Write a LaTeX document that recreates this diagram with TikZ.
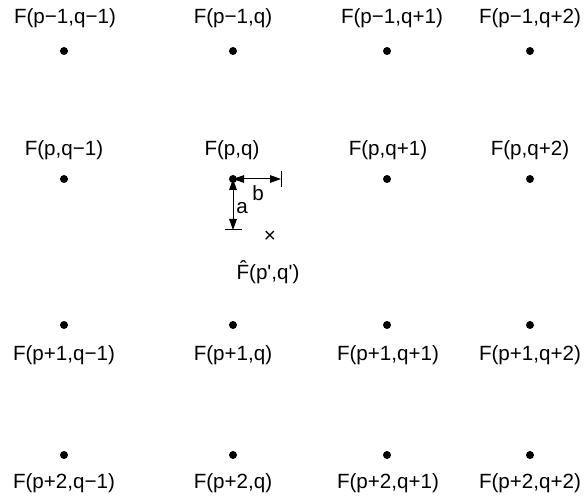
\documentclass[tikz,border=0pt]{standalone}
\usepackage{fontspec}
\setmainfont{Liberation Sans}[Ligatures=TeXOff]
\usetikzlibrary{arrows.meta}
\begin{document}
\begin{tikzpicture}[x=0.5pt,y=-0.5pt,
  dot/.style={circle,fill=black,inner sep=0pt,minimum size=4pt},
  lbl/.style={inner sep=0pt,font=\fontsize{10.3}{12}\selectfont},
  dim/.style={line width=0.5pt,{Triangle[length=5.5pt,width=3.8pt]}-{Triangle[length=5.5pt,width=3.8pt]}},
  tick/.style={line width=0.5pt}]
\useasboundingbox (0,0) rectangle (584,502);
% dots
\foreach \r/\y in {1/51,2/179,3/325,4/455}{
  \foreach \c/\x in {1/64,2/233,3/387,4/530}{
    \node[dot] (d\r\c) at (\x,\y) {};
  }
}
% row 1 labels
\node[lbl] (l11) at (65,18) {F(p−1,q−1)};
\node[lbl] (l12) at (233,18) {F(p−1,q)};
\node[lbl] (l13) at (392,18) {F(p−1,q+1)};
\node[lbl] (l14) at (530,18) {F(p−1,q+2)};
% row 2 labels
\node[lbl] (l21) at (64,150) {F(p,q−1)};
\node[lbl] (l22) at (232,150) {F(p,q)};
\node[lbl] (l23) at (388,150) {F(p,q+1)};
\node[lbl] (l24) at (530,150) {F(p,q+2)};
% row 3 labels
\node[lbl] (l31) at (64,355) {F(p+1,q−1)};
\node[lbl] (l32) at (233,355) {F(p+1,q)};
\node[lbl] (l33) at (388,355) {F(p+1,q+1)};
\node[lbl] (l34) at (530,355) {F(p+1,q+2)};
% row 4 labels
\node[lbl] (l41) at (64,483) {F(p+2,q−1)};
\node[lbl] (l42) at (233,483) {F(p+2,q)};
\node[lbl] (l43) at (388,483) {F(p+2,q+1)};
\node[lbl] (l44) at (530,483) {F(p+2,q+2)};
% dimensions
\coordinate (bend) at (281,179);
\coordinate (aend) at (233,230);
\draw[dim] (d22.center) -- (bend);
\draw[tick] (281,171) -- (281,187);
\draw[dim] (d22.center) -- (aend);
\draw[tick] (225,230) -- (242,230);
\node[lbl] (b) at (258,193) {b};
\node[lbl] (a) at (242,208) {a};
\node[lbl] (x) at (270,237) {×};
\node[lbl] (fhat) at (268,272) {\^{F}(p',q')};
\end{tikzpicture}
\end{document}
